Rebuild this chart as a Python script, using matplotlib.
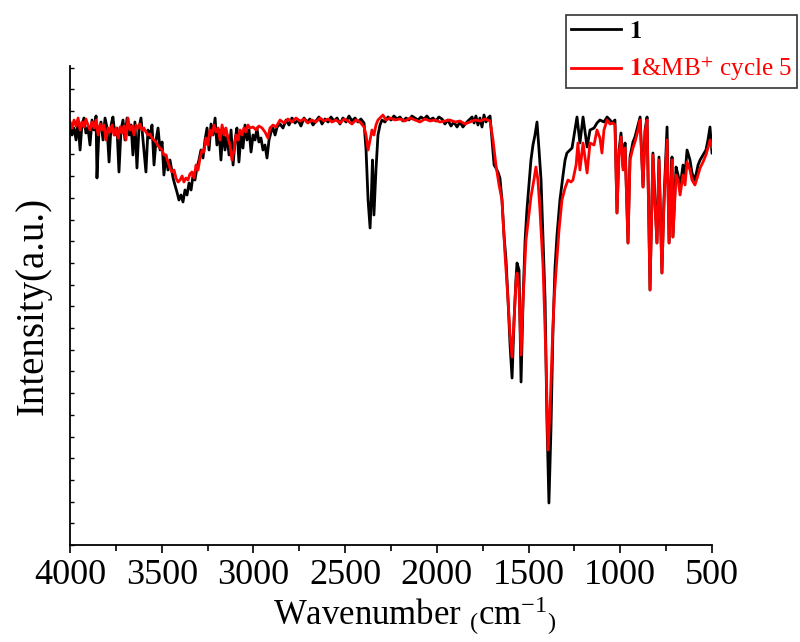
# FTIR spectra of 1 and 1&MB+ after cycle 5
import matplotlib
matplotlib.use("Agg")
import matplotlib.pyplot as plt
from matplotlib.ticker import MultipleLocator

# compound 1 (wavenumber, intensity a.u.)
black_wn = [4000, 3989, 3978, 3967, 3956, 3945, 3935, 3924, 3913, 3902, 3891, 3880, 3869, 3858, 3853,
            3842, 3831, 3820, 3809, 3798, 3787, 3776, 3766, 3755, 3744, 3733, 3722, 3711, 3700, 3689,
            3678, 3667, 3657, 3646, 3635, 3624, 3613, 3602, 3586, 3575, 3564, 3553, 3542, 3531, 3520,
            3509, 3498, 3488, 3477, 3466, 3455, 3438, 3428, 3417, 3406, 3395, 3384, 3373, 3362, 3351,
            3340, 3329, 3319, 3308, 3297, 3286, 3275, 3264, 3253, 3242, 3231, 3220, 3209, 3199, 3188,
            3177, 3166, 3155, 3144, 3133, 3122, 3111, 3100, 3090, 3079, 3068, 3057, 3046, 3035, 3024,
            3013, 3002, 2991, 2981, 2970, 2959, 2948, 2937, 2926, 2915, 2904, 2893, 2882, 2871, 2855,
            2839, 2822, 2806, 2790, 2773, 2757, 2741, 2724, 2708, 2692, 2675, 2659, 2643, 2626, 2610,
            2593, 2577, 2561, 2544, 2528, 2512, 2495, 2479, 2463, 2446, 2430, 2414, 2397, 2386, 2375,
            2364, 2356, 2351, 2343, 2332, 2321, 2310, 2299, 2283, 2266, 2250, 2234, 2217, 2201, 2185,
            2168, 2152, 2136, 2119, 2103, 2087, 2070, 2054, 2038, 2021, 2005, 1989, 1972, 1956, 1940,
            1923, 1907, 1890, 1874, 1858, 1841, 1825, 1808, 1797, 1787, 1776, 1765, 1754, 1743, 1732,
            1721, 1710, 1699, 1688, 1678, 1667, 1656, 1645, 1634, 1623, 1612, 1601, 1590, 1579, 1569,
            1563, 1552, 1541, 1530, 1519, 1509, 1498, 1487, 1476, 1465, 1454, 1443, 1432, 1421, 1410,
            1400, 1389, 1378, 1367, 1356, 1345, 1329, 1312, 1301, 1291, 1274, 1263, 1247, 1236, 1220,
            1203, 1181, 1165, 1143, 1127, 1111, 1089, 1072, 1056, 1045, 1029, 1018, 1007, 996, 985,
            974, 958, 947, 931, 920, 903, 892, 876, 865, 854, 838, 822, 811, 800, 789,
            773, 762, 745, 734, 723, 718, 713, 696, 685, 674, 658, 647, 636, 620, 609,
            593, 576, 565, 549, 533, 522, 511, 500]
black_int = [422, 410, 417, 405, 423, 395, 420, 427, 412, 417, 400, 425, 415, 429, 367,
             415, 423, 405, 427, 417, 383, 420, 428, 410, 417, 373, 415, 425, 405, 427,
             410, 420, 390, 423, 377, 417, 427, 405, 373, 415, 407, 420, 380, 405, 417,
             395, 403, 370, 390, 375, 385, 367, 360, 353, 345, 350, 343, 355, 350, 362,
             355, 370, 365, 377, 385, 395, 387, 405, 417, 395, 421, 410, 427, 400, 415,
             385, 417, 395, 410, 390, 415, 380, 405, 417, 383, 410, 397, 420, 405, 415,
             393, 410, 405, 417, 403, 407, 395, 400, 387, 405, 413, 417, 410, 418, 421,
             417, 425, 420, 427, 422, 425, 419, 427, 423, 426, 420, 424, 428, 421, 426,
             423, 428, 424, 427, 421, 427, 423, 429, 424, 427, 423, 426, 422, 395, 345,
             317, 355, 385, 330, 375, 410, 420, 425, 423, 428, 425, 429, 426, 428, 424,
             427, 425, 429, 427, 425, 428, 426, 429, 425, 427, 424, 428, 426, 421, 425,
             419, 423, 418, 423, 418, 422, 425, 428, 422, 429, 420, 427, 418, 430, 423,
             427, 429, 405, 380, 377, 373, 367, 345, 310, 285, 245, 200, 167, 225, 265,
             282, 275, 163, 245, 305, 335, 360, 385, 400, 410, 423, 395, 365, 305, 245,
             125, 42, 115, 215, 277, 310, 345, 370, 385, 392, 395, 397, 415, 428, 402,
             428, 398, 415, 417, 422, 425, 423, 428, 425, 422, 425, 332, 395, 412, 378,
             402, 302, 388, 403, 408, 420, 428, 358, 415, 428, 255, 392, 345, 302, 388,
             272, 345, 418, 302, 365, 388, 308, 378, 370, 358, 380, 370, 395, 385, 372,
             365, 380, 385, 390, 395, 405, 418, 392]

# 1&MB+ cycle 5
red_wn = [4000, 3989, 3978, 3967, 3956, 3945, 3935, 3924, 3913, 3902, 3891, 3880, 3869, 3858, 3847,
          3836, 3826, 3815, 3804, 3793, 3782, 3771, 3760, 3749, 3738, 3727, 3717, 3706, 3695, 3684,
          3673, 3662, 3651, 3640, 3629, 3618, 3607, 3597, 3586, 3575, 3564, 3553, 3542, 3531, 3520,
          3509, 3498, 3488, 3477, 3466, 3455, 3444, 3433, 3422, 3411, 3400, 3389, 3379, 3368, 3357,
          3346, 3335, 3324, 3313, 3302, 3291, 3280, 3270, 3259, 3248, 3237, 3226, 3215, 3204, 3193,
          3182, 3171, 3160, 3150, 3139, 3128, 3117, 3106, 3095, 3084, 3073, 3062, 3052, 3041, 3030,
          3019, 3002, 2986, 2970, 2953, 2937, 2921, 2910, 2893, 2877, 2855, 2833, 2812, 2790, 2768,
          2746, 2724, 2703, 2681, 2659, 2637, 2615, 2593, 2572, 2550, 2528, 2506, 2484, 2463, 2441,
          2419, 2397, 2386, 2375, 2364, 2354, 2343, 2332, 2321, 2310, 2294, 2277, 2255, 2228, 2201,
          2174, 2146, 2119, 2092, 2065, 2037, 2010, 1983, 1956, 1929, 1901, 1874, 1847, 1819, 1792,
          1765, 1737, 1710, 1694, 1678, 1661, 1645, 1629, 1612, 1601, 1590, 1579, 1569, 1563, 1552,
          1541, 1530, 1514, 1498, 1487, 1471, 1460, 1449, 1438, 1421, 1405, 1394, 1383, 1372, 1361,
          1351, 1334, 1318, 1301, 1285, 1269, 1258, 1241, 1231, 1220, 1203, 1181, 1165, 1143, 1127,
          1111, 1100, 1089, 1072, 1056, 1040, 1029, 1018, 1007, 996, 985, 974, 958, 947, 931,
          920, 903, 892, 876, 865, 854, 838, 822, 811, 800, 789, 773, 762, 745, 734,
          723, 718, 713, 696, 685, 674, 658, 647, 636, 620, 609, 593, 576, 565, 549,
          533, 522, 511, 500]
red_int = [423, 417, 425, 419, 427, 415, 423, 418, 426, 420, 415, 423, 417, 425, 410,
           421, 415, 420, 405, 417, 413, 420, 410, 417, 407, 418, 412, 419, 405, 427,
           415, 419, 410, 420, 417, 421, 415, 417, 413, 410, 411, 407, 405, 403, 399,
           397, 395, 390, 390, 383, 377, 373, 375, 367, 363, 365, 369, 363, 367, 365,
           371, 373, 367, 380, 375, 387, 395, 393, 407, 400, 415, 410, 420, 413, 417,
           405, 420, 410, 417, 407, 400, 385, 395, 410, 405, 415, 410, 417, 413, 420,
           417, 418, 415, 419, 417, 413, 407, 417, 420, 418, 425, 422, 426, 423, 427,
           424, 426, 422, 425, 423, 427, 424, 426, 423, 425, 422, 426, 424, 421, 425,
           423, 418, 410, 395, 405, 415, 410, 420, 425, 427, 430, 425, 427, 425, 426,
           424, 427, 425, 423, 426, 424, 425, 423, 424, 425, 423, 424, 421, 423, 425,
           424, 426, 424, 405, 380, 360, 345, 292, 245, 210, 188, 225, 262, 272, 255,
           190, 245, 305, 330, 348, 365, 378, 365, 335, 278, 185, 95, 135, 195, 245,
           272, 315, 345, 357, 365, 363, 365, 380, 402, 375, 402, 372, 402, 400, 415,
           407, 392, 415, 425, 421, 422, 420, 332, 390, 408, 375, 397, 302, 385, 397,
           403, 415, 425, 358, 413, 425, 255, 390, 340, 302, 385, 272, 340, 405, 302,
           360, 385, 308, 370, 365, 350, 370, 360, 383, 375, 365, 360, 370, 377, 383,
           390, 397, 405, 398]

series_labels = [r"$\mathbf{1}$", r"$\mathbf{1}$&MB$^{+}$ cycle 5"]
series_colors = ["black", "red"]
xticks = [4000, 3500, 3000, 2500, 2000, 1500, 1000, 500]

plt.rcParams["font.family"] = ["Liberation Serif", "DejaVu Serif"]
plt.rcParams["mathtext.fontset"] = "stix"

fig = plt.figure(figsize=(8, 6.42), dpi=100)
ax = fig.add_axes([70 / 800, 1 - 545 / 642, 642 / 800, 479 / 642])

ax.plot(black_wn, black_int, color=series_colors[0], lw=2.0, label=series_labels[0])
ax.plot(red_wn, red_int, color=series_colors[1], lw=2.0, label=series_labels[1])

ax.set_xlim(4000, 500)
ax.set_ylim(0, 479)
ax.set_xticks(xticks)
ax.xaxis.set_minor_locator(MultipleLocator(250))
ax.yaxis.set_major_locator(MultipleLocator(21.7))
ax.set_yticklabels([])
ax.tick_params(axis="x", which="major", direction="out", length=6, width=1.2, labelsize=26, pad=4)
ax.tick_params(axis="x", which="minor", direction="out", length=4, width=1.2)
ax.tick_params(axis="y", which="major", direction="in", length=3, width=1.0)

for side in ["top", "right"]:
    ax.spines[side].set_visible(False)
for side in ["left", "bottom"]:
    ax.spines[side].set_linewidth(1.3)

ax.set_xlabel(r"Wavenumber $\mathregular{{}_{(}cm^{-1}{}_{)}}$", fontsize=25, labelpad=0)
ax.xaxis.set_label_coords(0.538, -0.105)
ax.set_ylabel("Intensity(a.u.)", fontsize=28, labelpad=10)

leg = fig.legend(loc="upper right", bbox_to_anchor=(797 / 800, 1 - 15 / 642),
                 fontsize=18, frameon=True, fancybox=False, edgecolor="black",
                 handlelength=2.0, handletextpad=0.3, labelspacing=0.5,
                 borderpad=0.2, borderaxespad=0)
leg.get_frame().set_linewidth(1.2)
for txt, c in zip(leg.get_texts(), series_colors):
    txt.set_color(c)

fig.savefig("out.png", dpi=100)
